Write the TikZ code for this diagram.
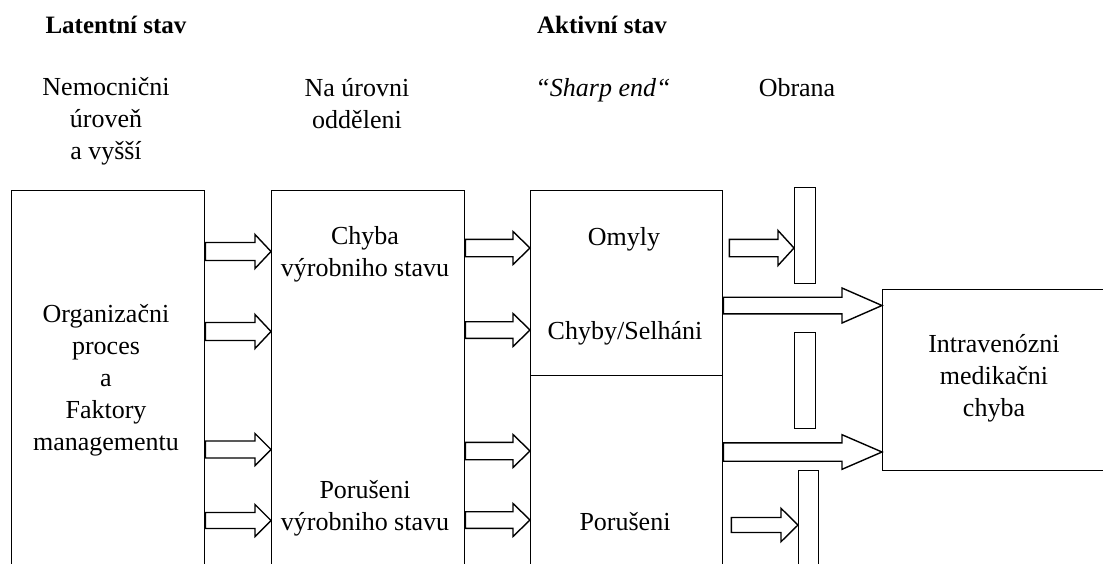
\documentclass[tikz,border=0pt]{standalone}
\usepackage{fontspec}
\setmainfont{Liberation Serif}
\usetikzlibrary{calc}
\tikzset{
  box/.style={draw, line width=1.4pt, anchor=north west, inner sep=0pt},
  barrow/.style={draw, fill=white, line width=1.4pt, line join=miter},
  txt/.style={font=\fontsize{26}{32}\selectfont, align=center, inner sep=0pt, anchor=base},
  hdr/.style={font=\fontsize{25}{31}\selectfont\bfseries, inner sep=0pt, anchor=base},
}
% #1 from node, #2 to node, #3 y centre, #4 shaft half height, #5 head half height, #6 head length, #7 gap at start
\newcommand\blockarr[7]{%
  \draw[barrow] let \p1=(#1.east), \p2=(#2.west) in
    (\x1+#7,#3-#4) -- (\x2-#6,#3-#4) -- (\x2-#6,#3-#5) -- (\x2,#3)
    -- (\x2-#6,#3+#5) -- (\x2-#6,#3+#4) -- (\x1+#7,#3+#4) -- cycle;
}
\begin{document}
\begin{tikzpicture}[x=1pt,y=-1pt]
\clip (0,0) rectangle (1103,563);
\fill[white] (0,0) rectangle (1103,563);
% boxes
\node[box, minimum width=193pt, minimum height=420pt] (b1) at (11,190) {};
\node[box, minimum width=193pt, minimum height=420pt] (b2) at (271,190) {};
\node[box, minimum width=192pt, minimum height=185pt] (b3a) at (530,190) {};
\node[box, minimum width=192pt, minimum height=240pt] (b3b) at (530,375) {};
\node[box, minimum width=21pt, minimum height=96pt] (d1) at (794,187) {};
\node[box, minimum width=21pt, minimum height=96pt] (d2) at (794,332) {};
\node[box, minimum width=20pt, minimum height=150pt] (d3) at (798,470) {};
\node[box, minimum width=260pt, minimum height=181pt] (f) at (882,289) {};
% block arrows
\blockarr{b1}{b2}{251.5}{9}{17}{16}{0}
\blockarr{b1}{b2}{331.5}{9}{17}{16}{0}
\blockarr{b1}{b2}{449.5}{8.5}{16}{16}{0}
\blockarr{b1}{b2}{520.5}{8}{16}{16}{0}
\blockarr{b2}{b3a}{248}{8.7}{16.5}{17}{0}
\blockarr{b2}{b3a}{330}{8.3}{16.5}{17}{0}
\blockarr{b2}{b3b}{451}{8.7}{16.5}{17}{0}
\blockarr{b2}{b3b}{520}{8.3}{16.5}{17}{0}
\blockarr{b3a}{d1}{248}{8.7}{17.5}{16}{6}
\blockarr{b3a}{f}{305.5}{8.3}{17.5}{40}{0}
\blockarr{b3b}{f}{452}{9.2}{17.3}{40}{0}
\blockarr{b3b}{d3}{525}{7.5}{16.7}{17}{8}
% texts (base anchor = last line baseline)
\node[txt] (t1) at (106,450) {Organizačni\\proces\\a\\Faktory\\managementu};
\node[txt] (t2) at (365,276.7) {Chyba\\výrobniho stavu};
\node[txt] (t3) at (365,530) {Porušeni\\výrobniho stavu};
\node[txt] (t4) at (624,245) {Omyly};
\node[txt] (t5) at (625,339.3) {Chyby/Selháni};
\node[txt] (t6) at (625,530) {Porušeni};
\node[txt] (t7) at (994,416.7) {Intravenózni\\medikačni\\chyba};
% headers
\node[hdr] (h1) at (116,33.3) {Latentní stav};
\node[hdr] (h2) at (602,33.3) {Aktivní stav};
\node[txt] (s1) at (106,159.3) {Nemocnični\\úroveň\\a vyšší};
\node[txt] (s2) at (357,128) {Na úrovni\\odděleni};
\node[txt] (s3) at (603,96.7) {\itshape “Sharp end“};
\node[txt] (s4) at (797,96.7) {Obrana};
\end{tikzpicture}
\end{document}
